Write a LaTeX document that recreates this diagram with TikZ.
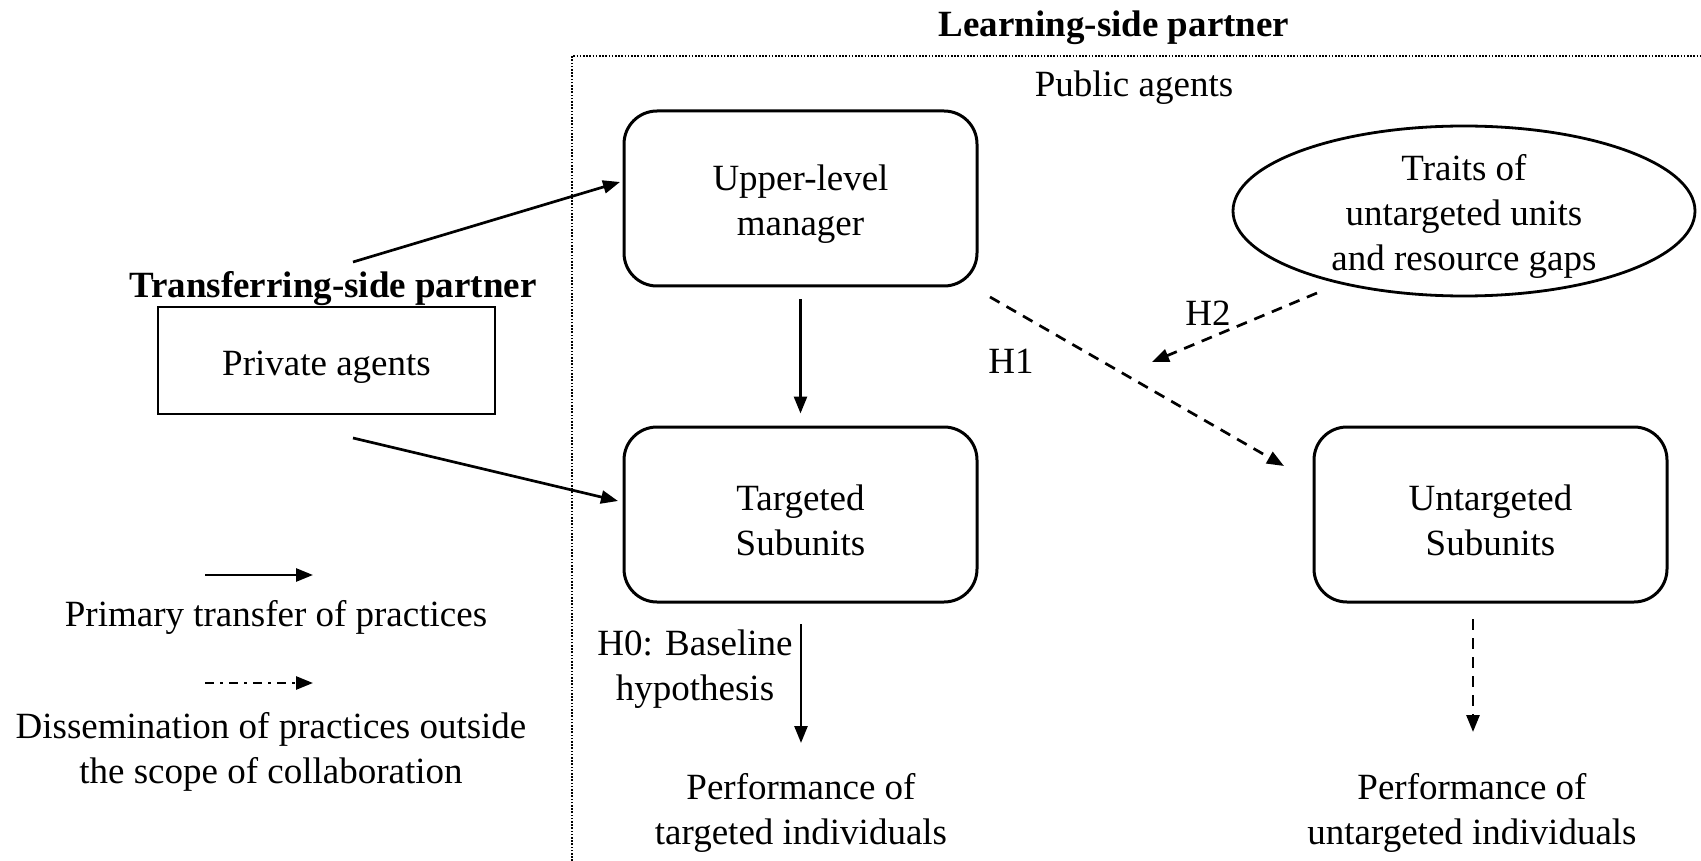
\documentclass[tikz,border=0pt]{standalone}
\usepackage{fontspec}
\setmainfont{Liberation Serif}
\usetikzlibrary{arrows.meta,shapes.geometric}
\begin{document}
\begin{tikzpicture}[x=1pt,y=-1pt,
  every node/.style={font=\fontsize{37}{45}\selectfont, align=center, inner sep=0pt},
  rbox/.style={draw, line width=3pt, rounded corners=33pt, minimum width=353pt, minimum height=175pt},
  pbox/.style={draw, line width=2.8pt, minimum width=337pt, minimum height=107pt},
  ebox/.style={draw, line width=2.8pt, ellipse, minimum width=462pt, minimum height=170pt},
  solidarrow/.style={line width=2.7pt, -{Triangle[length=17pt,width=13pt]}},
  dasharrow/.style={line width=2.7pt, dash pattern=on 11pt off 8pt, -{Triangle[length=17pt,width=13pt]}},
  dotarrow/.style={line width=2.7pt, dash pattern=on 9pt off 6pt on 3pt off 6pt, -{Triangle[length=17pt,width=13pt]}},
  border/.style={line width=2.2pt, dash pattern=on 1.6pt off 1.6pt}
]
\useasboundingbox (0,0) rectangle (1701,861);
% dotted border
\coordinate (bl) at (572,861);
\coordinate (tl) at (572,56);
\coordinate (tr) at (1701,56);
\draw[border] (bl) -- (tl) -- (tr);

\node[font=\fontsize{37}{45}\selectfont\bfseries] (learn) at (1114,28) {Learning-side partner};
\node (public) at (1134,88) {Public agents};

\node[rbox] (up) at (800.5,198.5) {};
\node (upT) at (800.5,204) {Upper-level\\manager};
\node[rbox] (tg) at (800.5,514.5) {};
\node (tgT) at (800.5,520) {Targeted\\Subunits};
\node[rbox] (ut) at (1490.5,514.5) {};
\node (utT) at (1490.5,520) {Untargeted\\Subunits};
\node[ebox] (traits) at (1464,211) {};
\node (traitsT) at (1464,216) {Traits of\\untargeted units\\and resource gaps};

\node[font=\fontsize{37}{45}\selectfont\bfseries] (transf) at (333,289) {Transferring-side partner};
\node[pbox] (priv) at (326.5,360.5) {};
\node (privT) at (326.5,367) {Private agents};

\node (h0) at (695,669) {H0: Baseline\\hypothesis};
\node (perfT) at (801,813) {Performance of\\targeted individuals};
\node (perfU) at (1472,813) {Performance of\\untargeted individuals};
\node (h1) at (1011,361) {H1};
\node (h2) at (1208,313) {H2};

% arrows
\coordinate (p1) at (353,262);
\coordinate (u1) at (620,182);
\coordinate (p2) at (353,438);
\coordinate (t1) at (618,501);
\draw[solidarrow] (p1) -- (u1);
\draw[solidarrow] (p2) -- (t1);
\draw[solidarrow, shorten <=12pt, shorten >=12pt] (up.south) -- (tg.north);
\coordinate (tgA) at (801,624);
\coordinate (tgB) at (801,743);
\draw[solidarrow] (tgA) -- (tgB);

\coordinate (h1a) at (990,297);
\coordinate (h1b) at (1284,466);
\draw[dasharrow] (h1a) -- (h1b);
\coordinate (h2a) at (1317,293);
\coordinate (h2b) at (1152,362);
\draw[dasharrow] (h2a) -- (h2b);
\coordinate (utA) at (1473,619);
\coordinate (utB) at (1473,732);
\draw[dasharrow] (utA) -- (utB);

% legend
\coordinate (l1a) at (205,575);
\coordinate (l1b) at (313,575);
\draw[solidarrow] (l1a) -- (l1b);
\node (leg1) at (276,617) {Primary transfer of practices};
\coordinate (l2a) at (205,683);
\coordinate (l2b) at (313,683);
\draw[dotarrow] (l2a) -- (l2b);
\node (leg2) at (271,752) {Dissemination of practices outside\\the scope of collaboration};
\end{tikzpicture}
\end{document}
